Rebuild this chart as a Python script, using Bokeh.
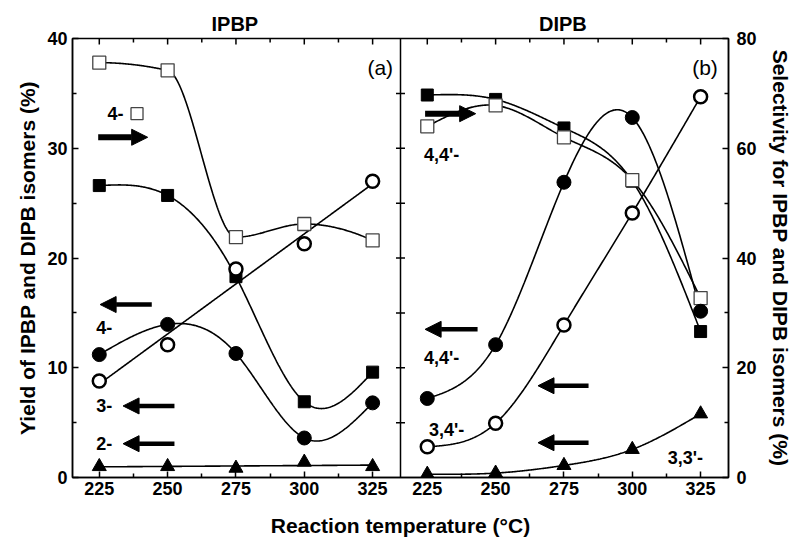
import numpy as np
from bokeh.plotting import figure
from bokeh.models import (Range1d, LinearAxis, FixedTicker, Label, Arrow,
                          NormalHead, Span)
from bokeh.embed import file_html
from bokeh.resources import INLINE

# ---------------- data ----------------
temps = [225, 250, 275, 300, 325]
x_tick_labels = ["225", "250", "275", "300", "325"]
x_minor = [237.5, 262.5, 287.5, 312.5]
y_left_ticks = [0, 10, 20, 30, 40]
y_left_minor = [5, 15, 25, 35]
y_right_ticks = [0, 20, 40, 60, 80]
y_right_minor = [10, 30, 50, 70]
panel_titles = ["IPBP", "DIPB"]

# Panel (a) IPBP
ipbp_open_sq = [75.6, 74.2, 43.8, 46.2, 43.2]     # selectivity 4-, right axis
ipbp_filled_sq = [26.6, 25.7, 18.3, 6.9, 9.6]     # left axis
ipbp_open_circ = [8.8, 12.1, 19.0, 21.3, 27.0]    # left axis
ipbp_filled_circ = [11.2, 13.95, 11.3, 3.6, 6.8]  # left axis
ipbp_tri = [1.0, 1.0, 0.85, 1.4, 1.0]             # left axis

# Panel (b) DIPB
dipb_filled_sq = [69.7, 68.9, 63.7, 54.0, 26.6]   # selectivity 4,4'-, right axis
dipb_open_sq = [64.0, 67.8, 62.0, 54.2, 32.7]     # right axis
dipb_filled_circ = [7.2, 12.1, 26.9, 32.8, 15.15] # yield 4,4'-, left axis
dipb_open_circ = [2.8, 4.95, 13.9, 24.1, 34.7]    # yield 3,4'-, left axis
dipb_tri = [0.3, 0.4, 1.1, 2.56, 5.8]             # yield 3,3'-, left axis

PANEL_SHIFT = 120.0
X_START = 215.2
DIVIDER = X_START + PANEL_SHIFT

FONT = "Liberation Sans"


# ---------------- curve helpers ----------------
def natural_spline(x, y, xs):
    x = np.asarray(x, float); y = np.asarray(y, float)
    n = len(x); h = np.diff(x)
    A = np.zeros((n, n)); b = np.zeros(n)
    A[0, 0] = 1; A[-1, -1] = 1
    for i in range(1, n - 1):
        A[i, i - 1] = h[i - 1]; A[i, i] = 2 * (h[i - 1] + h[i]); A[i, i + 1] = h[i]
        b[i] = 6 * ((y[i + 1] - y[i]) / h[i] - (y[i] - y[i - 1]) / h[i - 1])
    M = np.linalg.solve(A, b)
    idx = np.clip(np.searchsorted(x, xs) - 1, 0, n - 2)
    x0 = x[idx]; x1 = x[idx + 1]; hh = x1 - x0
    a = (x1 - xs) / hh; bb = (xs - x0) / hh
    return (a * y[idx] + bb * y[idx + 1]
            + ((a ** 3 - a) * M[idx] + (bb ** 3 - bb) * M[idx + 1]) * hh ** 2 / 6)


def pchip(x, y, xs):
    x = np.asarray(x, float); y = np.asarray(y, float)
    h = np.diff(x); d = np.diff(y) / h
    n = len(x); m = np.zeros(n)
    for i in range(1, n - 1):
        if d[i - 1] * d[i] > 0:
            w1 = 2 * h[i] + h[i - 1]; w2 = h[i] + 2 * h[i - 1]
            m[i] = (w1 + w2) / (w1 / d[i - 1] + w2 / d[i])
    m[0] = ((2 * h[0] + h[1]) * d[0] - h[0] * d[1]) / (h[0] + h[1])
    if np.sign(m[0]) != np.sign(d[0]):
        m[0] = 0
    m[-1] = ((2 * h[-1] + h[-2]) * d[-1] - h[-1] * d[-2]) / (h[-1] + h[-2])
    if np.sign(m[-1]) != np.sign(d[-1]):
        m[-1] = 0
    idx = np.clip(np.searchsorted(x, xs) - 1, 0, n - 2)
    hh = h[idx]; t = (xs - x[idx]) / hh
    h00 = 2 * t ** 3 - 3 * t ** 2 + 1; h10 = t ** 3 - 2 * t ** 2 + t
    h01 = -2 * t ** 3 + 3 * t ** 2; h11 = t ** 3 - t ** 2
    return h00 * y[idx] + h10 * hh * m[idx] + h01 * y[idx + 1] + h11 * hh * m[idx + 1]


def linfit(x, y, xs):
    c = np.polyfit(x, y, 1)
    return np.polyval(c, xs)


xs_dense = np.linspace(min(temps), max(temps), 300)

# ---------------- figure ----------------
p = figure(width=794, height=539, x_range=Range1d(X_START, X_START + 2 * PANEL_SHIFT),
           y_range=Range1d(0, 40), output_backend="svg", toolbar_location=None,
           min_border_left=72, min_border_right=60, min_border_top=38,
           min_border_bottom=60, background_fill_color="white",
           border_fill_color="white")
p.extra_y_ranges = {"sel": Range1d(0, 80)}
p.xgrid.visible = False
p.ygrid.visible = False
p.outline_line_color = "black"
p.outline_line_width = 1.5

all_x_ticks = list(temps) + [t + PANEL_SHIFT for t in temps]
all_x_minor = list(x_minor) + [t + PANEL_SHIFT for t in x_minor]
overrides = {}
for t, lab in zip(temps, x_tick_labels):
    overrides[t] = lab
    overrides[t + PANEL_SHIFT] = lab


def style_axis(ax):
    ax.axis_line_color = "black"
    ax.axis_line_width = 1.5
    ax.major_tick_in = 6
    ax.major_tick_out = 0
    ax.minor_tick_in = 4
    ax.minor_tick_out = 0
    ax.major_tick_line_width = 1.5
    ax.minor_tick_line_width = 1.5
    ax.major_label_text_font = FONT
    ax.major_label_text_font_style = "bold"
    ax.major_label_text_font_size = "18px"
    ax.major_label_text_color = "black"
    ax.axis_label_text_font = FONT
    ax.axis_label_text_font_style = "bold"
    ax.axis_label_text_font_size = "21px"
    ax.axis_label_text_color = "black"


xa = p.xaxis[0]
xa.ticker = FixedTicker(ticks=all_x_ticks, minor_ticks=all_x_minor)
xa.major_label_overrides = overrides
xa.axis_label = "Reaction temperature (°C)"
style_axis(xa)
xa.major_label_standoff = 4
xa.axis_label_standoff = 16

ya = p.yaxis[0]
ya.ticker = FixedTicker(ticks=y_left_ticks, minor_ticks=y_left_minor)
ya.axis_label = "Yield of IPBP and DIPB isomers (%)"
style_axis(ya)
ya.major_label_standoff = 5
ya.axis_label_standoff = 5

ra = LinearAxis(y_range_name="sel",
                ticker=FixedTicker(ticks=y_right_ticks, minor_ticks=y_right_minor),
                axis_label="Selectivity for IPBP and DIPB isomers (%)")
style_axis(ra)
ra.major_label_standoff = 8
ra.axis_label_standoff = 9
p.add_layout(ra, "right")

# panel titles as the labels of an axis above the frame
title_pos = [(X_START + DIVIDER) / 2 - 0.6, (X_START + DIVIDER) / 2 + PANEL_SHIFT - 0.6]
ta = LinearAxis(ticker=FixedTicker(ticks=title_pos, minor_ticks=[]),
                major_label_overrides=dict(zip(title_pos, panel_titles)))
style_axis(ta)
ta.axis_line_color = None
ta.major_tick_in = 0
ta.minor_tick_in = 0
ta.major_tick_line_color = None
ta.minor_tick_line_color = None
ta.major_label_text_font_size = "20px"
ta.major_label_standoff = 4
p.add_layout(ta, "above")

# inward ticks along the top edge (clipped to the frame)
p.scatter(all_x_ticks, [y_left_ticks[-1]] * len(all_x_ticks), marker="dash",
          angle=np.pi / 2, size=12, line_color="black", line_width=1.5)
p.scatter(all_x_minor, [y_left_ticks[-1]] * len(all_x_minor), marker="dash",
          angle=np.pi / 2, size=8, line_color="black", line_width=1.5)

# divider between panels, with ticks crossing it
p.add_layout(Span(location=DIVIDER, dimension="height", line_color="black", line_width=1.5))
div_ticks = y_left_minor + y_left_ticks[1:-1]
p.scatter([DIVIDER] * len(div_ticks), div_ticks, marker="dash", size=9,
          line_color="black", line_width=1.5)

# ---------------- series ----------------
series = [
    # values, shift, range, curve, marker, filled
    (ipbp_open_sq, 0, "sel", pchip, "square", False),
    (ipbp_filled_sq, 0, "default", natural_spline, "square", True),
    (ipbp_filled_circ, 0, "default", natural_spline, "circle", True),
    (ipbp_open_circ, 0, "default", linfit, "circle", False),
    (ipbp_tri, 0, "default", linfit, "triangle", True),
    (dipb_filled_sq, PANEL_SHIFT, "sel", natural_spline, "square", True),
    (dipb_open_sq, PANEL_SHIFT, "sel", natural_spline, "square", False),
    (dipb_filled_circ, PANEL_SHIFT, "default", natural_spline, "circle", True),
    (dipb_open_circ, PANEL_SHIFT, "default", natural_spline, "circle", False),
    (dipb_tri, PANEL_SHIFT, "default", natural_spline, "triangle", True),
]

for vals, shift, rng, fn, _, _ in series:
    ys = fn(temps, vals, xs_dense)
    p.line(xs_dense + shift, ys, line_color="black", line_width=1.6, y_range_name=rng)

for vals, shift, rng, _, mk, filled in series:
    xs_pts = [t + shift for t in temps]
    if mk == "square":
        if filled:
            p.scatter(xs_pts, vals, marker="square", size=12, fill_color="black",
                      line_color="black", y_range_name=rng)
        else:
            p.scatter(xs_pts, vals, marker="square", size=13, fill_color="white",
                      line_color="#444444", line_width=1.3, y_range_name=rng)
    elif mk == "circle":
        if filled:
            p.scatter(xs_pts, vals, marker="circle", size=14, fill_color="black",
                      line_color="black", y_range_name=rng)
        else:
            p.scatter(xs_pts, vals, marker="circle", size=13, fill_color="white",
                      line_color="black", line_width=2.5, y_range_name=rng)
    else:
        p.scatter(xs_pts, vals, marker="triangle", size=14, fill_color="black",
                  line_color="black", y_range_name=rng)

# ---------------- annotations ----------------
def add_text(x, y, txt, size="18px", bold=True, align="left"):
    p.add_layout(Label(x=x, y=y, text=txt, text_font=FONT,
                       text_font_style="bold" if bold else "normal",
                       text_font_size=size, text_color="black",
                       text_align=align, text_baseline="middle"))


def add_arrow(x0, x1, y, lw=4.5, size=16):
    p.add_layout(Arrow(end=NormalHead(size=size, fill_color="black", line_color="black",
                                      line_width=1),
                       x_start=x0, y_start=y, x_end=x1, y_end=y,
                       line_color="black", line_width=lw))


add_text(327.8, 37.4, "(a)", size="21px", bold=False, align="center")
add_text(446.6, 37.4, "(b)", size="21px", bold=False, align="center")

# panel (a)
add_text(228.0, 33.15, "4-")
p.scatter([238.8], [33.15], marker="square", size=12, fill_color="white",
          line_color="#444444", line_width=1.3)
add_arrow(224.6, 242.7, 31.0, lw=6)
add_arrow(244.2, 225.3, 15.76)
add_text(223.9, 13.68, "4-")
add_text(223.9, 6.52, "3-")
add_arrow(252.5, 233.7, 6.52)
add_text(223.9, 3.08, "2-")
add_arrow(252.5, 233.7, 3.08)

# panel (b)
add_arrow(344.2, 362.7, 33.15, lw=6)
add_text(343.8, 29.35, "4,4'-")
add_arrow(363.4, 344.2, 13.5)
add_text(343.8, 10.87, "4,4'-")
add_arrow(404.0, 385.5, 8.36)
add_text(345.6, 4.35, "3,4'-")
add_arrow(404.0, 385.5, 3.17)
add_text(433.0, 1.81, "3,3'-")

open("out.html", "w").write(file_html(p, INLINE))
